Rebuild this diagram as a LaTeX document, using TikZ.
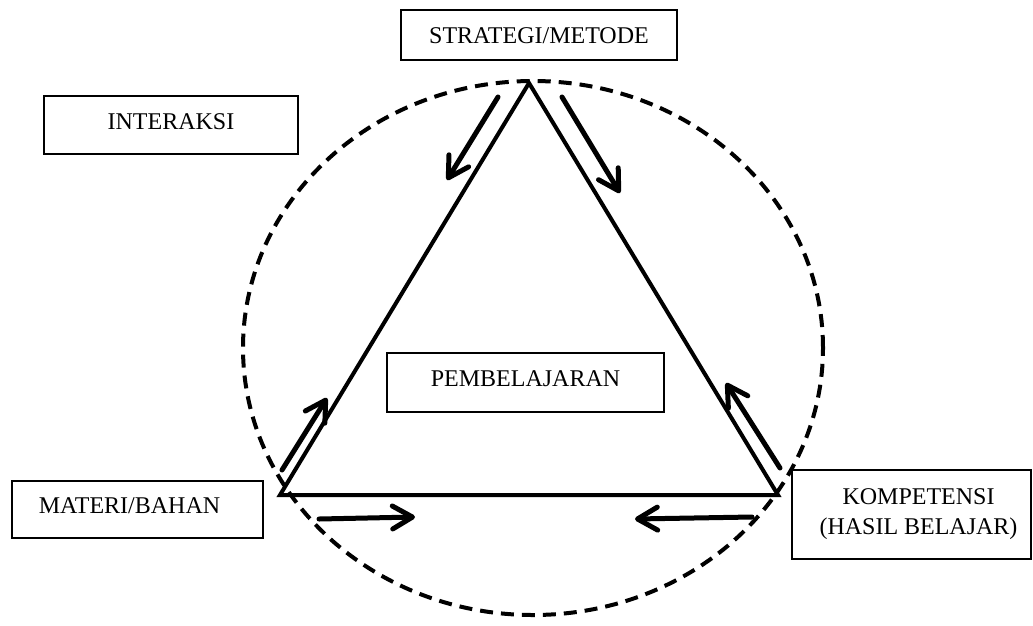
\documentclass[tikz,border=0pt]{standalone}
\usepackage{fontspec}
\setmainfont{Liberation Serif}
\usetikzlibrary{arrows.meta}
\begin{document}
\begin{tikzpicture}[x=1pt,y=-1pt,
  box/.style={draw,line width=1.3pt,inner sep=0pt,font=\fontsize{24}{30}\selectfont,text height=16pt,text depth=8pt},
  tri/.style={line width=4pt,line join=miter},
  ring/.style={line width=4pt,dash pattern=on 13pt off 8pt},
  flow/.style={line width=5pt,line cap=round,-{Straight Barb[length=20pt,width=23pt,round]}}]
\useasboundingbox (0,0) rectangle (1033,625);
% dashed ring
\draw[ring] (533,348) ellipse [x radius=290pt, y radius=267pt];
% triangle
\coordinate (apex) at (529,83);
\coordinate (bl) at (280,495);
\coordinate (br) at (778,495);
\draw[tri] (apex) -- (bl) -- (br) -- cycle;
% boxes
\node[box,minimum width=276pt,minimum height=50pt,text depth=0pt] (strat) at (539,35) {STRATEGI/METODE};
\node[box,minimum width=254pt,minimum height=58pt] (inter) at (171,125) {INTERAKSI};
\node[box,minimum width=277pt,minimum height=59pt] (pemb) at (525.5,382.5) {PEMBELAJARAN};
\node[box,minimum width=251pt,minimum height=57pt] (mat) at (137.5,509.5) {MATERI/BAHAN\hspace*{16pt}};
\node[box,minimum width=239pt,minimum height=89pt,align=center,text height=,text depth=] (komp) at (911.5,514.5) {\hspace*{14pt}KOMPETENSI\\\hspace*{14pt}(HASIL BELAJAR)};
% arrows
\coordinate (a1s) at (498,97);  \coordinate (a1e) at (447,180);
\coordinate (a2s) at (562,97);  \coordinate (a2e) at (620,193);
\coordinate (a3s) at (282,470); \coordinate (a3e) at (327,398);
\coordinate (a4s) at (780,468); \coordinate (a4e) at (726,383);
\coordinate (a5s) at (319,519); \coordinate (a5e) at (415,517);
\coordinate (a6s) at (752,517); \coordinate (a6e) at (635,519);
\draw[flow] (a1s) -- (a1e);
\draw[flow] (a2s) -- (a2e);
\draw[flow] (a3s) -- (a3e);
\draw[flow] (a4s) -- (a4e);
\draw[flow] (a5s) -- (a5e);
\draw[flow] (a6s) -- (a6e);
\end{tikzpicture}
\end{document}
